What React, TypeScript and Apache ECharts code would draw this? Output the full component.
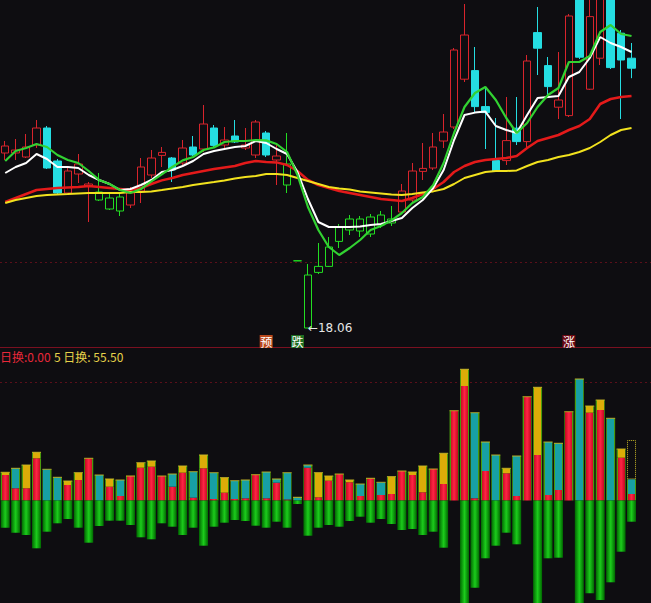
import React, { useEffect, useRef } from "react";
import * as echarts from "echarts";

// ---------- data ----------
const categories: string[] = Array.from({ length: 61 }, (_, i) => `${i + 1}`);

const opens = [26.81, 26.81, 26.61, 27.21, 28.06, 26.41, 24.81, 25.76, 25.16, 24.86, 24.01, 24.61, 24.21, 24.91, 25.71, 26.69, 26.56, 26.31, 27.11, 27.01, 28.06, 27.21, 27.66, 27.06, 26.71, 27.81, 26.46, 26.26, 21.42, 18.06, 20.84, 21.14, 22.39, 22.96, 23.51, 22.76, 23.71, 23.31, 23.86, 24.46, 25.89, 26.06, 27.41, 28.11, 30.5, 30.93, 29.13, 26.43, 26.43, 28.05, 27.38, 32.83, 31.18, 29.1, 28.68, 35.46, 30.0, 31.55, 35.21, 32.8, 31.55];
const closes = [27.16, 26.96, 27.11, 28.06, 26.06, 24.81, 25.91, 26.26, 25.26, 24.46, 24.56, 23.91, 24.81, 26.11, 26.56, 26.84, 25.96, 27.06, 26.71, 28.26, 27.19, 27.46, 27.36, 27.21, 28.36, 26.71, 26.66, 25.21, 21.42, 20.71, 21.14, 22.11, 23.09, 23.51, 22.91, 23.61, 23.21, 23.51, 24.91, 25.91, 26.04, 27.11, 27.86, 31.96, 32.71, 29.13, 28.83, 25.91, 27.43, 27.38, 31.41, 32.05, 30.13, 29.46, 33.66, 31.6, 33.63, 34.71, 31.08, 31.46, 31.05];
const lows = [26.46, 26.46, 26.56, 27.06, 26.01, 24.71, 24.71, 25.31, 23.36, 24.41, 23.96, 23.66, 24.06, 24.31, 25.56, 26.11, 25.36, 26.11, 26.66, 26.86, 27.11, 27.06, 27.31, 26.96, 26.56, 26.61, 25.21, 24.81, 21.41, 18.06, 20.76, 21.11, 22.06, 22.71, 22.61, 22.61, 23.06, 23.16, 23.76, 24.31, 25.46, 25.96, 27.06, 28.01, 30.36, 28.86, 27.01, 25.86, 26.21, 27.21, 27.06, 30.71, 29.61, 28.51, 28.61, 31.51, 29.96, 31.21, 31.01, 28.51, 30.55];
const highs = [27.41, 27.51, 27.76, 28.46, 28.16, 26.51, 26.06, 26.76, 25.36, 25.81, 24.86, 24.81, 25.11, 26.56, 26.96, 27.11, 26.61, 27.46, 27.66, 29.21, 28.21, 28.11, 28.46, 28.06, 28.46, 27.91, 27.21, 27.81, 21.44, 21.26, 22.31, 22.61, 23.26, 23.71, 23.66, 23.76, 23.91, 24.16, 25.26, 26.31, 27.31, 27.81, 28.76, 32.06, 34.26, 32.11, 30.11, 28.56, 29.61, 29.61, 31.71, 34.11, 31.61, 31.86, 33.76, 35.71, 34.96, 34.96, 35.46, 32.96, 32.31];
// candles drawn in green (weak phase)
const greenCandles = [9, 10, 11, 27, 28, 29, 30, 31, 32, 33, 34, 35, 36, 37];

const maWhite = [25.81, 26.11, 26.31, 26.76, 26.51, 26.11, 26.11, 26.06, 25.71, 25.46, 25.26, 24.96, 25.01, 25.21, 25.46, 25.86, 25.96, 26.16, 26.41, 26.76, 26.91, 27.01, 27.11, 27.16, 27.41, 27.31, 27.01, 26.76, 25.86, 24.51, 23.36, 23.11, 23.11, 23.11, 23.14, 23.21, 23.26, 23.41, 23.56, 24.06, 24.46, 25.06, 25.96, 27.46, 28.71, 28.83, 28.88, 28.16, 27.96, 27.81, 28.71, 29.56, 29.61, 29.66, 30.61, 30.86, 31.56, 32.61, 32.31, 32.11, 31.86];
const maGreen = [26.41, 26.91, 27.06, 27.26, 27.11, 26.71, 26.46, 26.31, 25.91, 25.46, 25.26, 24.96, 24.81, 25.01, 25.39, 25.74, 26.11, 26.44, 26.61, 26.96, 27.09, 27.36, 27.41, 27.41, 27.46, 27.44, 27.26, 26.86, 25.71, 24.11, 22.96, 22.11, 21.71, 22.06, 22.46, 22.96, 23.16, 23.44, 23.81, 24.31, 24.61, 25.21, 26.31, 27.81, 29.11, 29.81, 30.11, 29.46, 28.56, 27.81, 28.31, 29.11, 29.71, 30.06, 31.36, 31.36, 31.66, 32.86, 33.21, 32.76, 32.66];
const maRed = [24.36, 24.56, 24.76, 24.96, 25.01, 25.06, 25.09, 25.11, 25.16, 25.11, 25.06, 25.01, 24.96, 25.06, 25.26, 25.44, 25.56, 25.71, 25.81, 25.91, 26.01, 26.09, 26.16, 26.31, 26.41, 26.36, 26.34, 26.21, 25.91, 25.46, 25.21, 25.06, 24.91, 24.81, 24.71, 24.61, 24.51, 24.46, 24.41, 24.56, 24.76, 25.01, 25.36, 25.86, 26.16, 26.36, 26.46, 26.51, 26.56, 26.66, 27.06, 27.41, 27.56, 27.71, 27.96, 28.16, 28.51, 29.26, 29.51, 29.61, 29.66];
const maYellow = [24.31, 24.46, 24.56, 24.66, 24.71, 24.74, 24.76, 24.79, 24.81, 24.81, 24.81, 24.81, 24.86, 24.86, 24.89, 24.96, 25.04, 25.11, 25.21, 25.29, 25.36, 25.44, 25.54, 25.61, 25.66, 25.76, 25.76, 25.71, 25.56, 25.41, 25.26, 25.11, 25.04, 24.99, 24.89, 24.84, 24.79, 24.74, 24.71, 24.76, 24.84, 24.89, 25.01, 25.26, 25.56, 25.71, 25.86, 25.91, 25.91, 25.94, 26.16, 26.36, 26.46, 26.61, 26.71, 26.86, 27.06, 27.36, 27.71, 27.96, 28.06];

// turnover bars (stacked) and negative bars
const volRed = [2.55, 1.22, 1.22, 4.22, 0, 0, 1.55, 2.05, 4.22, 0, 1.38, 0.45, 2.45, 3.28, 3.38, 2.45, 1.38, 2.78, 0.28, 3.22, 0.15, 0.78, 0.15, 0.22, 2.58, 0.22, 1.78, 0.1, 0, 3.28, 0.32, 1.98, 2.65, 1.82, 0.45, 2.22, 0.55, 0.65, 2.95, 2.55, 0.82, 3.15, 1.65, 8.98, 11.45, 0.22, 2.95, 0, 2.72, 0.45, 10.38, 4.55, 0.55, 1.05, 8.88, 0, 8.78, 9.05, 0, 4.28, 0.65];
const volTeal = [0, 2.0, 0, 0, 3.12, 2.32, 0, 0, 0, 2.55, 0, 1.6, 0, 0, 0, 0, 1.27, 0, 2.6, 0, 2.63, 0, 1.83, 1.83, 0, 2.63, 0.37, 2.68, 0.32, 0.27, 0, 0, 0, 0, 1.2, 0, 1.27, 0, 0, 0, 0, 0, 0, 0, 0, 8.56, 2.9, 4.55, 0, 4.0, 0, 0, 5.3, 4.67, 0, 12.15, 0, 0, 8.22, 0, 1.47];
const volGold = [0.27, 0, 2.33, 0.6, 0, 0, 0.4, 0.73, 0, 0, 0.77, 0, 0, 0.5, 0.57, 0, 0, 0.67, 0, 1.33, 0, 1.5, 0, 0, 0, 0, 0, 0, 0, 0, 2.46, 0.47, 0, 0.23, 0, 0, 0, 1.73, 0, 0.3, 2.63, 0, 3.07, 0, 1.67, 0, 0, 0, 0.5, 0, 0, 6.77, 0, 0, 0, 0, 0.67, 1.0, 0, 0.87, 0];
const volPending = [0, 0, 0, 0, 0, 0, 0, 0, 0, 0, 0, 0, 0, 0, 0, 0, 0, 0, 0, 0, 0, 0, 0, 0, 0, 0, 0, 0, 0, 0, 0, 0, 0, 0, 0, 0, 0, 0, 0, 0, 0, 0, 0, 0, 0, 0, 0, 0, 0, 0, 0, 0, 0, 0, 0, 0, 0, 0, 0, 0, 3.93];
const volGreen = [-2.72, -3.22, -3.45, -4.78, -3.12, -2.28, -1.85, -2.72, -4.22, -2.55, -2.02, -2.02, -2.45, -3.68, -3.88, -2.28, -2.62, -3.45, -2.72, -4.52, -2.62, -2.22, -1.95, -2.05, -2.52, -2.72, -2.12, -2.72, -0.35, -3.52, -2.72, -2.45, -2.62, -2.05, -1.62, -2.22, -1.85, -2.35, -2.95, -2.85, -3.45, -3.12, -4.72, 0, -10.3, -8.72, -5.78, -4.52, -3.22, -4.38, 0, -10.3, -5.78, -5.72, 0, -10.3, -9.28, -9.95, -8.18, -5.12, -2.12];

const signals = [
  { index: 25, text: "预", bg: "#b8481c" },
  { index: 28, text: "跌", bg: "#1f6e22" },
  { index: 54, text: "涨", bg: "#6e0a12" },
];
const legendTexts = [
  { text: "日换:0.00", color: "#e8283a" },
  { text: "5 日换: 55.50", color: "#e6d24a" },
];

// ---------- styles ----------
const BG = "#0e0d11";
const RED_C = "#d8242c";
const CYAN_C = "#25dde2";
const GREEN_C = "#22dd22";
const OUT = "#4a9a0c";
const CJK = '"Noto Sans CJK SC", "Noto Sans", sans-serif';

const edgeGrad = (inner: string, center?: string) =>
  new echarts.graphic.LinearGradient(0, 0, 1, 0, [
    { offset: 0, color: OUT },
    { offset: 0.11, color: OUT },
    { offset: 0.11, color: inner },
    { offset: 0.5, color: center || inner },
    { offset: 0.89, color: inner },
    { offset: 0.89, color: OUT },
    { offset: 1, color: OUT },
  ]);

export default function App() {
  const ref = useRef<HTMLDivElement>(null);

  useEffect(() => {
    if (!ref.current) return;
    document.body.style.margin = "0";
    document.body.style.background = BG;
    const chart = echarts.init(ref.current, undefined, { renderer: "svg" });

    const candleData = categories.map((_, i) => {
      const g = greenCandles.includes(i);
      const item: any = { value: [opens[i], closes[i], lows[i], highs[i]] };
      if (g) {
        item.itemStyle = {
          color: "transparent",
          color0: GREEN_C,
          borderColor: GREEN_C,
          borderColor0: GREEN_C,
        };
      }
      return item;
    });

    const minLow = Math.min(...lows);
    const minIdx = lows.indexOf(minLow);
    const signalPrice = 17.385;

    const lineSeries = (data: number[], color: string, width: number) => ({
      type: "line",
      xAxisIndex: 0,
      yAxisIndex: 0,
      data,
      symbol: "none",
      showSymbol: false,
      silent: true,
      lineStyle: { color, width },
      z: 3,
    });

    const option: any = {
      animation: false,
      backgroundColor: BG,
      grid: [
        { left: -2.54, width: 639.28, top: 0, height: 348 },
        { left: -2.54, width: 639.28, top: 349, height: 254 },
      ],
      xAxis: [
        { type: "category", data: categories, gridIndex: 0, show: false, boundaryGap: true },
        { type: "category", data: categories, gridIndex: 1, show: false, boundaryGap: true },
      ],
      yAxis: [
        { type: "value", gridIndex: 0, min: 17.06, max: 34.46, show: false, splitLine: { show: false } },
        { type: "value", gridIndex: 1, min: -10.25, max: 15.15, show: false, splitLine: { show: false } },
      ],
      series: [
        {
          type: "candlestick",
          xAxisIndex: 0,
          yAxisIndex: 0,
          barWidth: 8,
          clip: true,
          data: candleData,
          itemStyle: {
            color: "transparent",
            color0: CYAN_C,
            borderColor: RED_C,
            borderColor0: CYAN_C,
            borderWidth: 1,
          },
          markPoint: {
            silent: true,
            animation: false,
            data: [
              ...signals.map((s) => ({
                coord: [s.index, signalPrice],
                symbol: "rect",
                symbolSize: 13,
                itemStyle: { color: s.bg },
                label: {
                  show: true,
                  position: "inside",
                  formatter: s.text,
                  color: "#ffffff",
                  fontSize: 12,
                  fontFamily: CJK,
                },
              })),
              {
                coord: [minIdx, minLow],
                symbol: "rect",
                symbolSize: 0,
                label: {
                  show: true,
                  position: "right",
                  distance: 0,
                  formatter: "←" + minLow.toFixed(2),
                  color: "#e6e6e6",
                  fontSize: 12,
                  fontFamily: '"DejaVu Sans", Arial, sans-serif',
                },
              },
            ],
          },
          z: 2,
        },
        lineSeries(maRed, "#e41a1a", 2.5),
        lineSeries(maYellow, "#f2e21e", 2),
        lineSeries(maWhite, "#ffffff", 2),
        lineSeries(maGreen, "#32d232", 2.2),
        {
          type: "bar",
          name: "red",
          xAxisIndex: 1,
          yAxisIndex: 1,
          stack: "vol",
          barWidth: 9,
          data: volRed,
          itemStyle: { color: edgeGrad("#c80c24", "#ff2444") },
          silent: true,
        },
        {
          type: "bar",
          name: "teal",
          xAxisIndex: 1,
          yAxisIndex: 1,
          stack: "vol",
          data: volTeal,
          itemStyle: { color: edgeGrad("#17a0a4") },
          silent: true,
        },
        {
          type: "bar",
          name: "gold",
          xAxisIndex: 1,
          yAxisIndex: 1,
          stack: "vol",
          data: volGold,
          itemStyle: { color: edgeGrad("#dcac08") },
          silent: true,
        },
        {
          type: "bar",
          name: "pending",
          xAxisIndex: 1,
          yAxisIndex: 1,
          stack: "vol",
          data: volPending,
          itemStyle: {
            color: "transparent",
            borderColor: "#c8b828",
            borderWidth: 1,
            borderType: "dotted",
          },
          silent: true,
        },
        {
          type: "bar",
          name: "green",
          xAxisIndex: 1,
          yAxisIndex: 1,
          stack: "vol",
          data: volGreen,
          itemStyle: {
            color: new echarts.graphic.LinearGradient(0, 0, 1, 0, [
              { offset: 0, color: "#006800" },
              { offset: 0.5, color: "#1ccc1c" },
              { offset: 1, color: "#006800" },
            ]),
          },
          silent: true,
        },
      ],
      graphic: [
        {
          type: "line",
          silent: true,
          shape: { x1: 0, y1: 262.5, x2: 651, y2: 262.5 },
          style: { stroke: "#5a0f1a", lineWidth: 1, lineDash: [2, 3] },
        },
        {
          type: "line",
          silent: true,
          shape: { x1: 0, y1: 347.5, x2: 651, y2: 347.5 },
          style: { stroke: "#7a1020", lineWidth: 1 },
        },
        {
          type: "line",
          silent: true,
          shape: { x1: 0, y1: 382.5, x2: 651, y2: 382.5 },
          style: { stroke: "#5a0f1a", lineWidth: 1, lineDash: [2, 3] },
        },
        {
          type: "text",
          silent: true,
          x: 0,
          y: 356,
          style: {
            text: legendTexts[0].text,
            fill: legendTexts[0].color,
            font: `12px ${CJK}`,
            verticalAlign: "middle",
          },
        },
        {
          type: "text",
          silent: true,
          x: 54,
          y: 356,
          style: {
            text: legendTexts[1].text,
            fill: legendTexts[1].color,
            font: `12px ${CJK}`,
            verticalAlign: "middle",
          },
        },
      ],
    };

    chart.setOption(option);
    return () => chart.dispose();
  }, []);

  return (
    <div
      ref={ref}
      style={{ position: "absolute", left: 0, top: 0, width: 651, height: 603, background: BG }}
    />
  );
}
